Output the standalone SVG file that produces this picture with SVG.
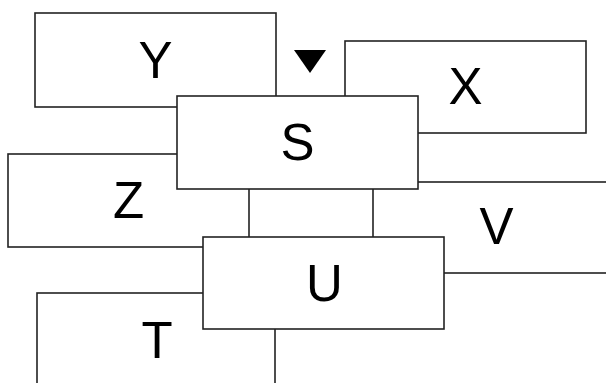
<svg xmlns="http://www.w3.org/2000/svg" width="606" height="383" viewBox="0 0 606 383">
<style>
.box{fill:#fff;stroke:#222;stroke-width:1.6}
.lbl{font-family:"Liberation Sans",Arial,sans-serif;font-size:51px;fill:#000;text-anchor:middle}
</style>
<rect width="606" height="383" fill="#fff"/>
<g id="Y"><rect class="box" x="35" y="13" width="241" height="94"/><text class="lbl" x="155.5" y="78">Y</text></g>
<g id="X"><rect class="box" x="345" y="41" width="241" height="92"/><text class="lbl" x="465.5" y="104">X</text></g>
<g id="Z"><rect class="box" x="8" y="154" width="241" height="93"/><text class="lbl" x="128.5" y="218">Z</text></g>
<g id="V"><rect class="box" x="373" y="182" width="247" height="91"/><text class="lbl" x="496.5" y="244">V</text></g>
<g id="T"><rect class="box" x="37" y="293" width="238" height="120"/><text class="lbl" x="157" y="358">T</text></g>
<g id="S"><rect class="box" x="177" y="96" width="241" height="93"/><text class="lbl" x="297.5" y="160">S</text></g>
<g id="U"><rect class="box" x="203" y="237" width="241" height="92"/><text class="lbl" x="324.5" y="301">U</text></g>
<g id="connectors"><polygon points="294,50 326,50 310,73" fill="#000"/></g>
</svg>
